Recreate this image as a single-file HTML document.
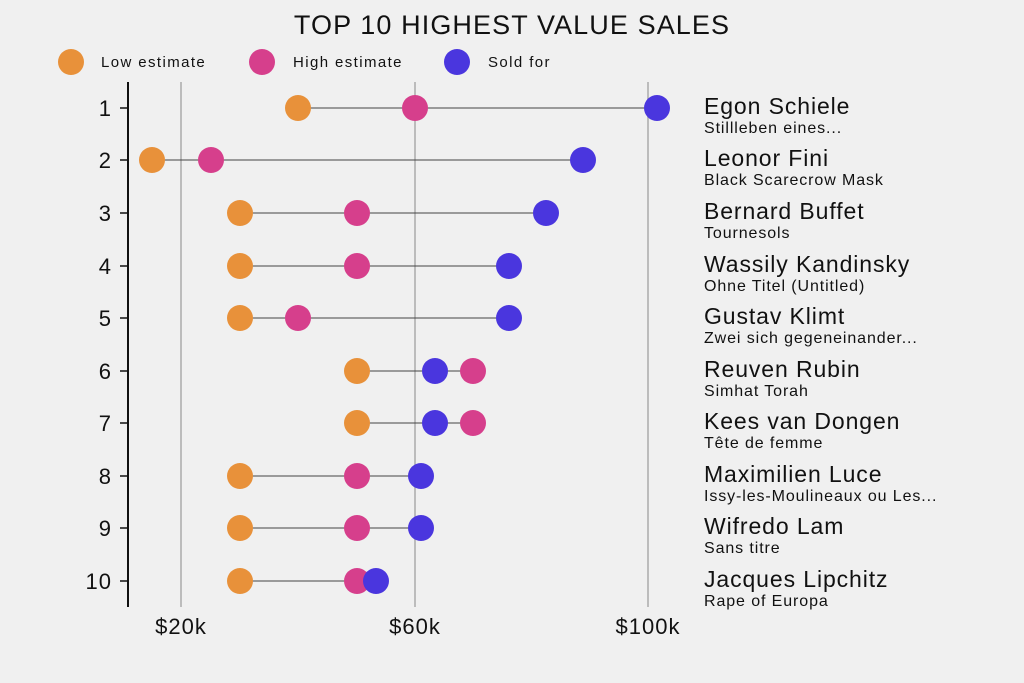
<!DOCTYPE html>
<html><head><meta charset="utf-8"><style>
body{margin:0;background:#f0f0f0;}
svg{display:block;font-family:"Liberation Sans","DejaVu Sans",sans-serif;}
</style></head><body>
<svg width="1024" height="683" viewBox="0 0 1024 683">
<rect width="1024" height="683" fill="#f0f0f0"/>
<text x="512" y="34" text-anchor="middle" font-size="27" letter-spacing="1.1" fill="#111">TOP 10 HIGHEST VALUE SALES</text>
<g font-size="15" letter-spacing="1.4" fill="#111">
<circle cx="71" cy="62" r="13" fill="#E8913A"/><text x="101" y="67">Low estimate</text>
<circle cx="262" cy="62" r="13" fill="#D63F8C"/><text x="293" y="67">High estimate</text>
<circle cx="457" cy="62" r="13" fill="#4A36DE"/><text x="488" y="67">Sold for</text>
</g>
<g stroke="#aaa" stroke-width="1.5">
<line x1="181" y1="82" x2="181" y2="607"/><line x1="415" y1="82" x2="415" y2="607"/><line x1="648" y1="82" x2="648" y2="607"/>
</g>
<line x1="128" y1="82" x2="128" y2="607" stroke="#111" stroke-width="2"/>
<g font-size="22" fill="#111" text-anchor="middle" letter-spacing="1">
<text x="181" y="634">$20k</text><text x="415" y="634">$60k</text><text x="648" y="634">$100k</text>
</g>
<g stroke="#444" stroke-width="1">
<line x1="298" y1="108" x2="657" y2="108"/>
<line x1="152" y1="160" x2="583" y2="160"/>
<line x1="240" y1="213" x2="546" y2="213"/>
<line x1="240" y1="266" x2="509" y2="266"/>
<line x1="240" y1="318" x2="509" y2="318"/>
<line x1="357" y1="371" x2="473" y2="371"/>
<line x1="357" y1="423" x2="473" y2="423"/>
<line x1="240" y1="476" x2="421" y2="476"/>
<line x1="240" y1="528" x2="421" y2="528"/>
<line x1="240" y1="581" x2="376" y2="581"/>
</g>
<g stroke="#111" stroke-width="1.5">
<line x1="120" y1="108" x2="128" y2="108"/><line x1="120" y1="160" x2="128" y2="160"/><line x1="120" y1="213" x2="128" y2="213"/><line x1="120" y1="266" x2="128" y2="266"/><line x1="120" y1="318" x2="128" y2="318"/><line x1="120" y1="371" x2="128" y2="371"/><line x1="120" y1="423" x2="128" y2="423"/><line x1="120" y1="476" x2="128" y2="476"/><line x1="120" y1="528" x2="128" y2="528"/><line x1="120" y1="581" x2="128" y2="581"/>
</g>
<g font-size="22" fill="#111" text-anchor="end" letter-spacing="1">
<text x="112" y="116">1</text><text x="112" y="168">2</text><text x="112" y="221">3</text><text x="112" y="274">4</text><text x="112" y="326">5</text><text x="112" y="379">6</text><text x="112" y="431">7</text><text x="112" y="484">8</text><text x="112" y="536">9</text><text x="112" y="589">10</text>
</g>
<g fill="#E8913A">
<circle cx="298" cy="108" r="13"/><circle cx="152" cy="160" r="13"/><circle cx="240" cy="213" r="13"/><circle cx="240" cy="266" r="13"/><circle cx="240" cy="318" r="13"/><circle cx="357" cy="371" r="13"/><circle cx="357" cy="423" r="13"/><circle cx="240" cy="476" r="13"/><circle cx="240" cy="528" r="13"/><circle cx="240" cy="581" r="13"/>
</g>
<g fill="#D63F8C">
<circle cx="415" cy="108" r="13"/><circle cx="211" cy="160" r="13"/><circle cx="357" cy="213" r="13"/><circle cx="357" cy="266" r="13"/><circle cx="298" cy="318" r="13"/><circle cx="473" cy="371" r="13"/><circle cx="473" cy="423" r="13"/><circle cx="357" cy="476" r="13"/><circle cx="357" cy="528" r="13"/><circle cx="357" cy="581" r="13"/>
</g>
<g fill="#4A36DE">
<circle cx="657" cy="108" r="13"/><circle cx="583" cy="160" r="13"/><circle cx="546" cy="213" r="13"/><circle cx="509" cy="266" r="13"/><circle cx="509" cy="318" r="13"/><circle cx="435" cy="371" r="13"/><circle cx="435" cy="423" r="13"/><circle cx="421" cy="476" r="13"/><circle cx="421" cy="528" r="13"/><circle cx="376" cy="581" r="13"/>
</g>
<g font-size="23" fill="#111" letter-spacing="0.9">
<text x="704" y="114">Egon Schiele</text><text x="704" y="166">Leonor Fini</text><text x="704" y="219">Bernard Buffet</text><text x="704" y="272">Wassily Kandinsky</text><text x="704" y="324">Gustav Klimt</text><text x="704" y="377">Reuven Rubin</text><text x="704" y="429">Kees van Dongen</text><text x="704" y="482">Maximilien Luce</text><text x="704" y="534">Wifredo Lam</text><text x="704" y="587">Jacques Lipchitz</text>
</g>
<g font-size="16" fill="#111" letter-spacing="0.9">
<text x="704" y="133">Stillleben eines...</text><text x="704" y="185">Black Scarecrow Mask</text><text x="704" y="238">Tournesols</text><text x="704" y="291">Ohne Titel (Untitled)</text><text x="704" y="343">Zwei sich gegeneinander...</text><text x="704" y="396">Simhat Torah</text><text x="704" y="448">Tête de femme</text><text x="704" y="501">Issy-les-Moulineaux ou Les...</text><text x="704" y="553">Sans titre</text><text x="704" y="606">Rape of Europa</text>
</g>
</svg>
</body></html>
